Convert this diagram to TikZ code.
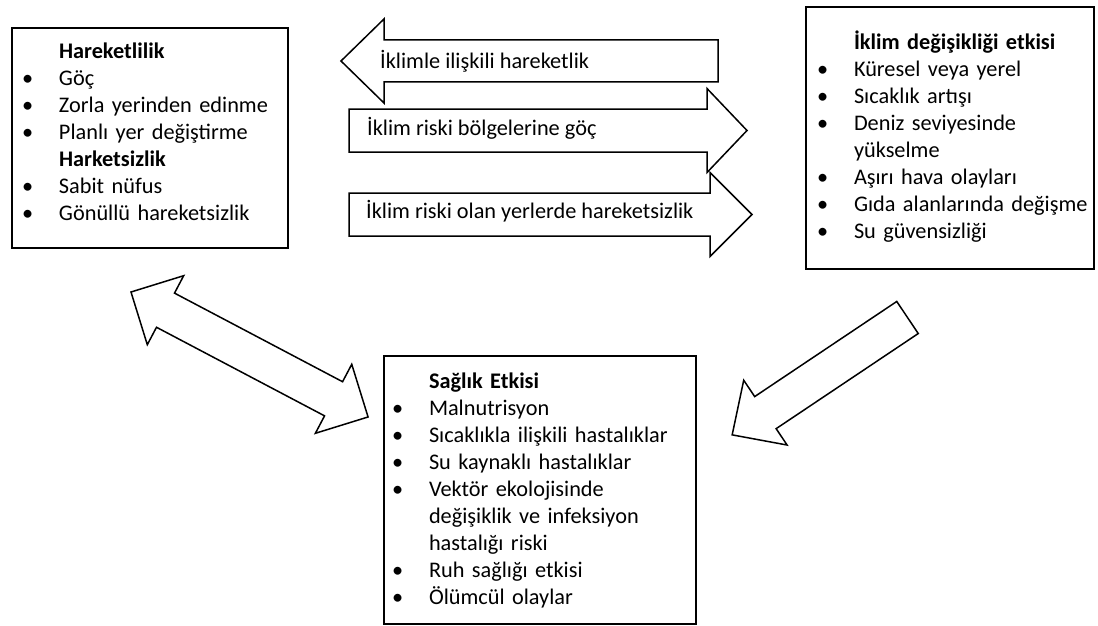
\documentclass[tikz,border=0pt]{standalone}
\usepackage{fontspec}
\setmainfont{Carlito}

\newcommand{\bul}{\makebox[37pt][l]{\textbullet}}
\newcommand{\ind}{\hspace*{37pt}}
% #1 kuyruk, #2 aci, #3 boy, #4 govde yari, #5 bas yari, #6 bas boyu
\newcommand{\tekok}[6]{%
  \draw[okcizgi, shift={(#1)}, rotate=#2]
    (0,#4) -- ({#3-#6},#4) -- ({#3-#6},#5) -- (#3,0) -- ({#3-#6},-#5)
    -- ({#3-#6},-#4) -- (0,-#4) -- cycle;}
% #1 uc, #2 aci, #3 boy, #4 govde yari, #5 bas yari, #6 bas boyu
\newcommand{\ciftok}[6]{%
  \draw[okcizgi, shift={(#1)}, rotate=#2]
    (0,0) -- (#6,#5) -- (#6,#4) -- ({#3-#6},#4) -- ({#3-#6},#5) -- (#3,0)
    -- ({#3-#6},-#5) -- ({#3-#6},-#4) -- (#6,-#4) -- (#6,-#5) -- cycle;}

\begin{document}
\begin{tikzpicture}[
    x=1pt, y=1pt,
    every node/.style={align=left},
    infobox/.style={
        rectangle,
        draw=black,
        line width=2pt,
        anchor=north west,
        inner ysep=0pt,
        font=\fontsize{22.3}{27}\selectfont
    },
    oktext/.style={
        anchor=base west,
        inner sep=0pt,
        font=\fontsize{22.3}{27}\selectfont
    },
    okcizgi/.style={
        draw=black,
        line width=1.5pt,
        line join=miter
    }
]
\useasboundingbox (0,0) rectangle (1098,-626);

% kutular
\node[infobox, text width=256pt, inner xsep=10pt, text height=31pt, text depth=189pt]
    (mob) at (11,-27) {\ind\textbf{Hareketlilik}\\
    \bul Göç\\
    \bul Zorla yerinden edinme\\
    \bul Planlı yer değiştirme\\
    \ind\textbf{Harketsizlik}\\
    \bul Sabit nüfus\\
    \bul Gönüllü hareketsizlik};
\node[infobox, text width=266pt, inner xsep=11pt, text height=42.5pt, text depth=219.5pt]
    (iklim) at (805,-6) {\ind\textbf{İklim değişikliği etkisi}\\
    \bul Küresel veya yerel\\
    \bul Sıcaklık artışı\\
    \bul Deniz seviyesinde\\
    \ind yükselme\\
    \bul Aşırı hava olayları\\
    \bul \mbox{Gıda alanlarında değişme}\\
    \bul Su güvensizliği};
\node[infobox, text width=296pt, inner xsep=8pt, text height=32.5pt, text depth=235.5pt]
    (saglik) at (383,-355) {\ind\textbf{Sağlık Etkisi}\\
    \bul Malnutrisyon\\
    \bul Sıcaklıkla ilişkili hastalıklar\\
    \bul Su kaynaklı hastalıklar\\
    \bul Vektör ekolojisinde\\
    \ind değişiklik ve infeksiyon\\
    \ind hastalığı riski\\
    \bul Ruh sağlığı etkisi\\
    \bul Ölümcül olaylar};

% yatay oklar
\coordinate (ok1k) at (718,-61);
\coordinate (ok2k) at (349,-130.5);
\coordinate (ok3k) at (349,-214.5);
\tekok{ok1k}{180}{377}{21}{42}{43}
\tekok{ok2k}{0}{398}{21.5}{42}{40}
\tekok{ok3k}{0}{403}{21.5}{42}{42}
\node[oktext] (ok1) at (380,-68.5) {İklimle ilişkili hareketlik};
\node[oktext] (ok2) at (367,-135.5) {İklim riski bölgelerine göç};
\node[oktext] (ok3) at (366,-218.5) {İklim riski olan yerlerde hareketsizlik};

% capraz oklar
\coordinate (mobuc) at (131,-292);
\coordinate (iklimuc) at (907.5,-317.5);
\ciftok{mobuc}{-27.8}{268}{19.3}{39}{39}
\tekok{iklimuc}{213.8}{211}{19.3}{39}{40}
\end{tikzpicture}
\end{document}
